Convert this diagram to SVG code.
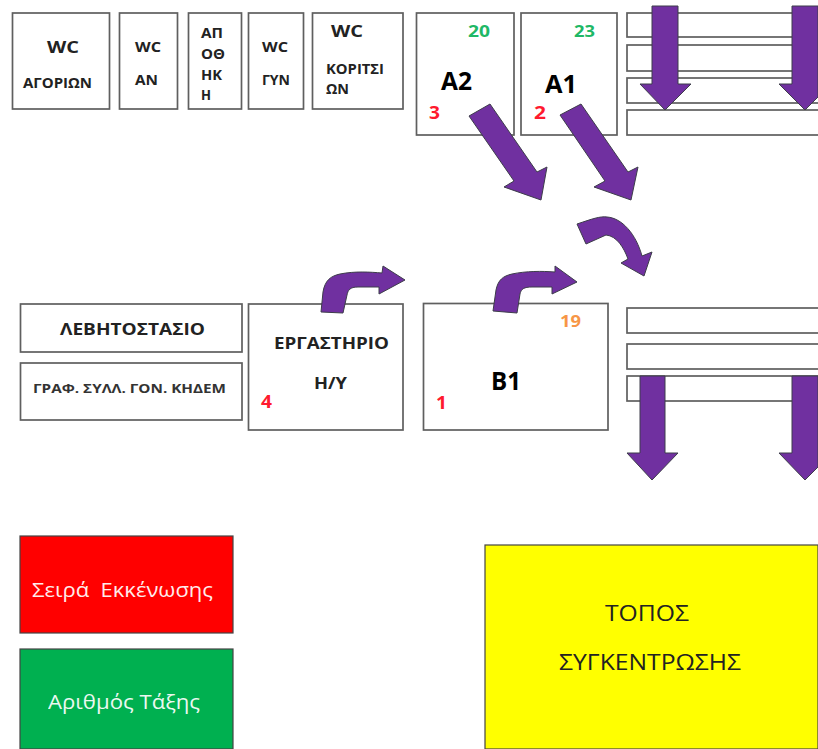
<svg xmlns="http://www.w3.org/2000/svg" width="818" height="749" viewBox="0 0 818 749">
<style>
.b{fill:#fff;stroke:#5f5f5f;stroke-width:1.7}
.a{fill:#7030a0;stroke:#3d3d4a;stroke-width:1}
text{font-family:"Open Sans","DejaVu Sans",sans-serif;text-anchor:start}
.k{fill:#222;font-weight:700;font-size:14px}
.s{fill:#333;font-weight:700;font-size:13px}
.h{fill:#222;font-weight:700;font-size:16px}
.r{fill:#ff1a2e;font-weight:700;font-size:17px}
.g{fill:#1fb866;font-weight:700;font-size:16px}
.l{fill:#000;font-weight:700;font-size:25px}
.w{fill:#fff;font-size:20px;opacity:.92}
.y{fill:#222;font-size:22px}
</style>
<rect width="818" height="749" fill="#fff"/>
<g id="wc-agorion"><rect class="b" x="12.5" y="13" width="97" height="96"/><text class="h" x="47" y="53" textLength="32" lengthAdjust="spacingAndGlyphs">WC</text><text class="k" x="23" y="88" textLength="69" lengthAdjust="spacingAndGlyphs">ΑΓΟΡΙΩΝ</text></g>
<g id="wc-an"><rect class="b" x="119.5" y="13" width="58" height="96"/><text class="k" x="135" y="52" textLength="26" lengthAdjust="spacingAndGlyphs">WC</text><text class="k" x="135" y="85" textLength="23" lengthAdjust="spacingAndGlyphs">ΑΝ</text></g>
<g id="apothiki"><rect class="b" x="188.5" y="13" width="53" height="96"/><text class="k" x="201" y="38" textLength="22" lengthAdjust="spacingAndGlyphs">ΑΠ</text><text class="k" x="201" y="59" textLength="24" lengthAdjust="spacingAndGlyphs">ΟΘ</text><text class="k" x="201" y="80" textLength="21" lengthAdjust="spacingAndGlyphs">ΗΚ</text><text class="k" x="201" y="100" textLength="10" lengthAdjust="spacingAndGlyphs">Η</text></g>
<g id="wc-gyn"><rect class="b" x="248.5" y="13" width="55" height="96"/><text class="k" x="262" y="52" textLength="26" lengthAdjust="spacingAndGlyphs">WC</text><text class="k" x="262" y="85" textLength="28" lengthAdjust="spacingAndGlyphs">ΓΥΝ</text></g>
<g id="wc-koritsion"><rect class="b" x="312.5" y="13" width="90.5" height="96"/><text class="h" x="331" y="37" textLength="32" lengthAdjust="spacingAndGlyphs">WC</text><text class="k" x="326" y="74" textLength="58" lengthAdjust="spacingAndGlyphs">ΚΟΡΙΤΣΙ</text><text class="k" x="326" y="94" textLength="23" lengthAdjust="spacingAndGlyphs">ΩΝ</text></g>
<g id="a2"><rect class="b" x="416.5" y="13" width="97.5" height="122"/><text class="g" x="468" y="37" textLength="22" lengthAdjust="spacingAndGlyphs">20</text><text class="l" x="441" y="90" textLength="31" lengthAdjust="spacingAndGlyphs">A2</text><text class="r" x="429" y="119" textLength="11" lengthAdjust="spacingAndGlyphs">3</text></g>
<g id="a1"><rect class="b" x="521" y="13" width="96" height="122"/><text class="g" x="574" y="37" textLength="21" lengthAdjust="spacingAndGlyphs">23</text><text class="l" x="545" y="93" textLength="32" lengthAdjust="spacingAndGlyphs">A1</text><text class="r" x="534" y="119" textLength="12" lengthAdjust="spacingAndGlyphs">2</text></g>
<g id="row-top">
<rect class="b" x="627" y="13" width="200" height="24"/><rect class="b" x="627" y="45" width="200" height="26"/><rect class="b" x="627" y="78" width="200" height="25"/><rect class="b" x="627" y="110" width="200" height="25"/>
</g>
<g id="lebitostasio"><rect class="b" x="20.5" y="304" width="221.5" height="48"/><text class="h" x="60" y="335" textLength="145" lengthAdjust="spacingAndGlyphs">ΛΕΒΗΤΟΣΤΑΣΙΟ</text></g>
<g id="grafeia"><rect class="b" x="20.5" y="363" width="221.5" height="57"/><text class="s" x="33" y="393" textLength="193" lengthAdjust="spacingAndGlyphs">ΓΡΑΦ. ΣΥΛΛ. ΓΟΝ. ΚΗΔΕΜ</text></g>
<g id="ergastirio"><rect class="b" x="248.5" y="304" width="154.5" height="126"/><text class="h" x="274" y="349" textLength="115" lengthAdjust="spacingAndGlyphs">ΕΡΓΑΣΤΗΡΙΟ</text><text class="h" x="314" y="389" textLength="33" lengthAdjust="spacingAndGlyphs">Η/Υ</text><text class="r" x="261" y="408" textLength="11" lengthAdjust="spacingAndGlyphs">4</text></g>
<g id="b1"><rect class="b" x="423.5" y="303.5" width="184.5" height="126.5"/><text x="560" y="327" font-size="16" font-weight="700" fill="#f79646" textLength="21" lengthAdjust="spacingAndGlyphs">19</text><text class="l" x="491" y="390" textLength="30" lengthAdjust="spacingAndGlyphs">B1</text><text class="r" x="436" y="409" textLength="11" lengthAdjust="spacingAndGlyphs">1</text></g>
<g id="row-bottom">
<rect class="b" x="627" y="308" width="200" height="25"/><rect class="b" x="627" y="344" width="200" height="25"/><rect class="b" x="627" y="376" width="200" height="25"/>
</g>
<g id="legend-red"><rect x="20" y="536" width="213" height="97" fill="#ff0000" stroke="#444" stroke-width="1.2"/><text class="w" x="32" y="597" xml:space="preserve" textLength="181" lengthAdjust="spacingAndGlyphs">Σειρά  Εκκένωσης</text></g>
<g id="legend-green"><rect x="20" y="649" width="213" height="100" fill="#00b050" stroke="#444" stroke-width="1.2"/><text class="w" x="48" y="709" textLength="152" lengthAdjust="spacingAndGlyphs">Αριθμός Τάξης</text></g>
<g id="topos"><rect x="485" y="545" width="333" height="204" fill="#ffff00" stroke="#444" stroke-width="1.2"/><text class="y" x="605" y="621" textLength="84" lengthAdjust="spacingAndGlyphs">ΤΟΠΟΣ</text><text class="y" x="559" y="670" textLength="182" lengthAdjust="spacingAndGlyphs">ΣΥΓΚΕΝΤΡΩΣΗΣ</text></g>
<g id="connectors">
<path class="a" d="M652 6H678V84H691L665 110L640 84H652Z"/>
<path class="a" d="M792 6H818V97L805 110L779 84H792Z"/>
<path class="a" d="M640 376H665V453H678L652 480L627 453H640Z"/>
<path class="a" d="M792 376H818V467L805 480L779 453H792Z"/>
<path class="a" d="M469 116L490 104L537 172L547 167L541 200L504 187L514 181Z"/>
<path class="a" d="M560 115L581 104L628 172L638 167L631 200L594 187L605 181Z"/>
<path class="a" d="M577 224C592 219 600 216 607 217C622 218 636 234 642 256L652 252L644 276L621 263L628 259C624 248 617 236 606 235L586 244Z"/>
<path class="a" d="M321 312L323 292C325 280 331 276 340 274C355 271 370 272 382 273L383 266L405 280L379 294V287H358C350 287 348 290 347 295L343 313Z"/>
<path class="a" d="M493 311L496 290C498 280 503 276 512 274C526 271 542 271 555 272V266L577 282L552 294V287H532C524 287 521 289 520 294L517 313Z"/>
</g>
</svg>
